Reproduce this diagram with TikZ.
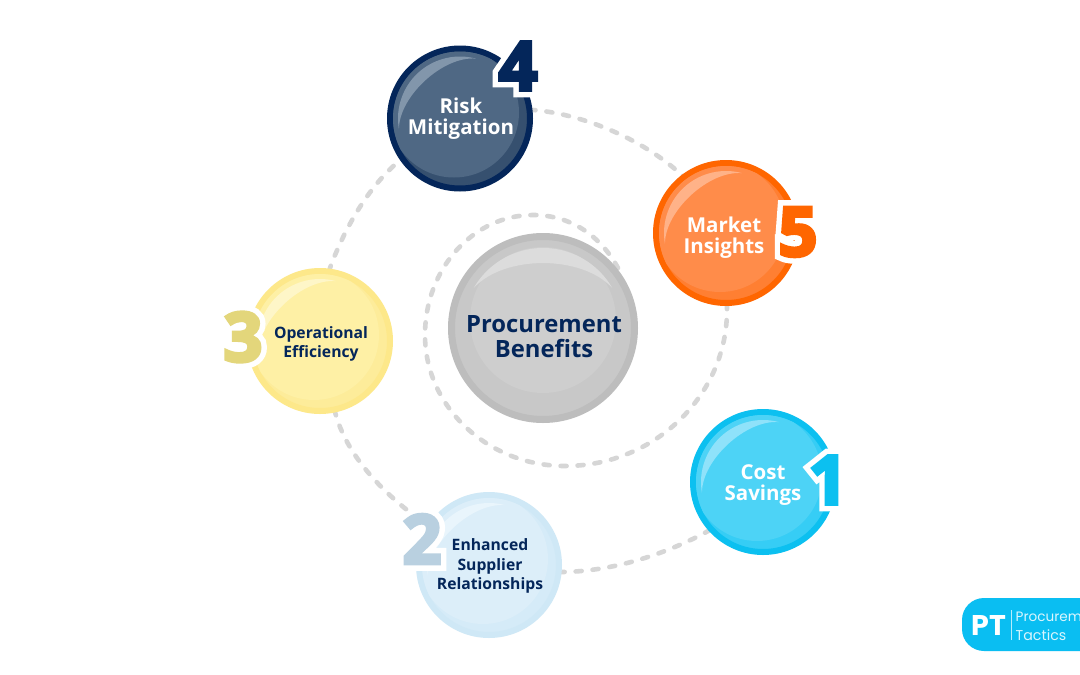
\documentclass[tikz,border=0pt]{standalone}
\usepackage{fontspec}
\setmainfont{Open Sans}
\newfontfamily\logofont{Poppins}
\newfontfamily\numhalo[FakeBold=21]{Open Sans Bold}
\newfontfamily\numfill[FakeBold=5]{Open Sans Bold}
\usetikzlibrary{calc}
\pgfdeclarelayer{back}
\pgfsetlayers{back,main}
\definecolor{navy}{HTML}{04265A}
\definecolor{dashgray}{HTML}{D6D6D6}
\definecolor{numtwo}{HTML}{B9D0E0}
\definecolor{numthree}{HTML}{E3D67B}
% palette: ring, base, light, shine
\definecolor{riskR}{HTML}{04265A}\definecolor{riskB}{HTML}{36506F}\definecolor{riskL}{HTML}{4F6884}\definecolor{riskS}{HTML}{8296AB}
\definecolor{markR}{HTML}{FF6600}\definecolor{markB}{HTML}{FF7F32}\definecolor{markL}{HTML}{FF8C4A}\definecolor{markS}{HTML}{FFB288}
\definecolor{costR}{HTML}{0CC0F0}\definecolor{costB}{HTML}{36CDF5}\definecolor{costL}{HTML}{4DD3F6}\definecolor{costS}{HTML}{8FE2FA}
\definecolor{enhR}{HTML}{CFE8F6}\definecolor{enhB}{HTML}{D5EBF8}\definecolor{enhL}{HTML}{DCEEF9}\definecolor{enhS}{HTML}{E9F5FC}
\definecolor{opsR}{HTML}{FDE88A}\definecolor{opsB}{HTML}{FDEC9A}\definecolor{opsL}{HTML}{FEF0A5}\definecolor{opsS}{HTML}{FEF6C8}
\definecolor{cenR}{HTML}{BDBDBD}\definecolor{cenB}{HTML}{C8C8C8}\definecolor{cenL}{HTML}{CECECE}\definecolor{cenS}{HTML}{DCDCDC}
\definecolor{ptblue}{HTML}{0ABEF2}
\tikzset{
  orb/.style={circle,draw=#1R,fill=#1B,line width=6pt,minimum size=140pt,inner sep=0pt,outer sep=0pt},
  dashlink/.style={draw=dashgray,line width=4.6pt,line cap=round,dash pattern=on 6pt off 11pt},
  lightlabel/.style={align=center,text=white,font=\fontsize{20.5}{21}\selectfont\bfseries,inner sep=0pt},
  darklabel/.style={align=center,text=navy,font=\fontsize{15.7}{19.5}\selectfont\bfseries,inner sep=0pt},
}
\newcommand{\orbshape}[4]{% name, x, y, palette
  \node[orb=#4] (#1) at (#2,#3) {};
  \begin{scope}[shift={(#2,#3)},yscale=-1]
    \begin{scope}
      \clip (0,0) circle[radius=67];
      \fill[#4L] (-6,6) circle[radius=65];
    \end{scope}
    \fill[#4S] (190:62) arc[start angle=190,end angle=75,radius=62]
      .. controls (105:65) and (160:65) .. (190:62) -- cycle;
  \end{scope}
}
\newcommand{\digit}[4]{% x, y, digit, colour
  \node[inner sep=0pt,text=white,font=\numhalo\fontsize{68}{68}\selectfont] at (#1,#2) {#3};
  \node[inner sep=0pt,text=#4,font=\numfill\fontsize{68}{68}\selectfont] at (#1,#2) {#3};
}
\begin{document}
\begin{tikzpicture}[x=1pt,y=-1pt]
\useasboundingbox (0,0) rectangle (1080,675);
\clip (0,0) rectangle (1080,675);

% centre orb
\node[circle,draw=cenR,fill=cenB,line width=7pt,minimum size=183pt,inner sep=0pt,outer sep=0pt] (centre) at (543,328) {};
\begin{scope}[shift={(543,328)},yscale=-1]
  \begin{scope}
    \clip (0,0) circle[radius=88];
    \fill[cenL] (0,8) circle[radius=73];
  \end{scope}
  \fill[cenS] (150:80) arc[start angle=150,end angle=30,radius=80]
    .. controls (62:83) and (118:83) .. (150:80) -- cycle;
\end{scope}
\node[align=center,text=navy,inner sep=0pt,font=\fontsize{23.8}{25}\selectfont\bfseries] (centreL) at (544,337) {Procurement\\Benefits};

% outer orbs
\orbshape{risk}{460}{118.5}{risk}
\orbshape{market}{726}{233}{mark}
\orbshape{cost}{763}{482}{cost}
\orbshape{supplier}{489}{565}{enh}
\orbshape{ops}{320}{341}{ops}

\node[lightlabel] (riskL) at (461,119) {Risk\\Mitigation};
\node[lightlabel] (marketL) at (724,238) {Market\\Insights};
\node[lightlabel] (costL) at (763,485) {Cost\\Savings};
\node[darklabel] (supplierL) at (490,566) {Enhanced\\Supplier\\Relationships};
\node[darklabel] (opsL) at (321,344) {Operational\\Efficiency};

\digit{828}{480}{1}{costR}
\digit{422}{539}{2}{numtwo}
\digit{243}{337}{3}{numthree}
\digit{518}{66}{4}{navy}
\digit{798}{232}{5}{markR}

% connectors
\coordinate (spiralend) at (618,268);
\begin{pgfonlayer}{back}
  \fill[white] (0,0) rectangle (1080,675);
  \draw[dashlink] (spiralend) .. controls (600,235) and (570,215) .. (533,215)
     .. controls (473,215) and (425,269) .. (425,335)
     .. controls (425,407) and (488,466) .. (565,466)
     .. controls (655,466) and (727,395) .. (727,310) -- (market);
  \draw[dashlink] (risk) -- (533,110) .. controls (575,113) and (640,135) .. (685,178) -- (market);
  \draw[dashlink] (ops) -- (330,268) .. controls (342,235) and (365,190) .. (398,162) -- (risk);
  \draw[dashlink] (ops) -- (335,412) .. controls (345,450) and (375,487) .. (420,520) -- (supplier);
  \draw[dashlink] (supplier) -- (560,572) .. controls (610,572) and (665,555) .. (710,530) -- (cost);
\end{pgfonlayer}

% logo
\fill[ptblue,rounded corners=22pt] (962,598) rectangle (1110,651);
\node[inner sep=0pt,text=white,font=\logofont\fontsize{28.5}{28.5}\selectfont\bfseries] (ptmark) at (989,625) {PT};
\coordinate (ruleTop) at (1011.5,610);
\coordinate (ruleBot) at (1011.5,640);
\draw[white!70!ptblue,line width=0.7pt] (ruleTop) -- (ruleBot);
\node[anchor=base west,inner sep=0pt,text=white!85!ptblue,font=\logofont\fontsize{13.6}{13.6}\selectfont] (ptone) at (1015.5,621) {Procurem};
\node[anchor=base west,inner sep=0pt,text=white!85!ptblue,font=\logofont\fontsize{14.2}{14.2}\selectfont] (pttwo) at (1015.5,640) {Tactics};
\end{tikzpicture}
\end{document}
